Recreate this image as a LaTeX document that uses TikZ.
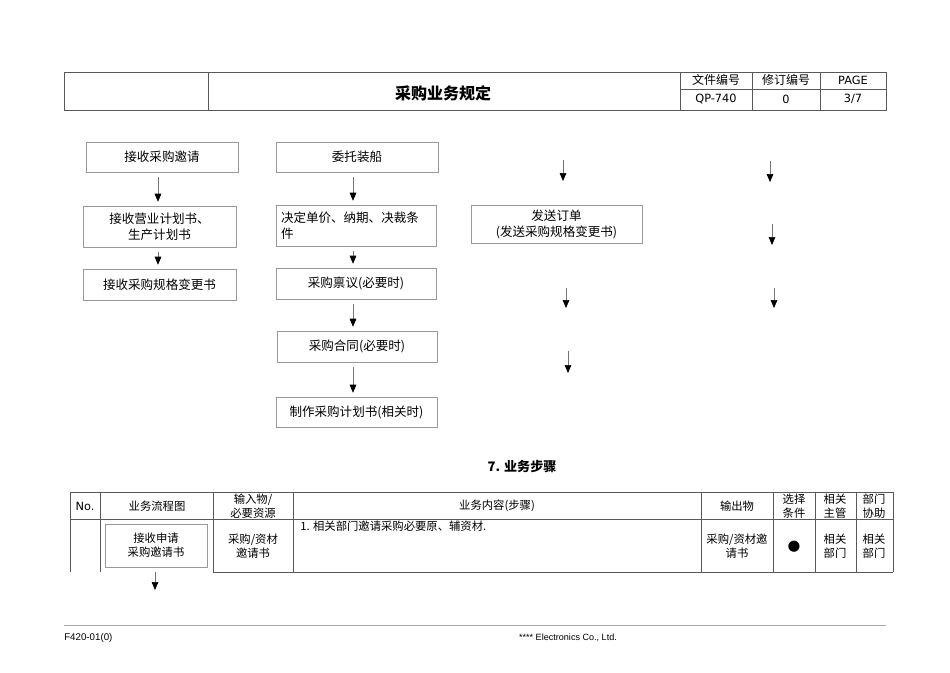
\documentclass[tikz,border=0pt]{standalone}
\usepackage{fontspec}
\setmainfont{DejaVu Sans}
\newfontfamily\cjk{Noto Sans CJK SC}
\newfontfamily\footfont{Liberation Sans}
\usetikzlibrary{arrows.meta}
\newdimen\px \px=0.75pt
\begin{document}
\begin{tikzpicture}[x=0.75pt, y=-0.75pt,
	flowbox/.style={draw=black!40, inner sep=0pt, align=center, font=\cjk\fontsize{9.4}{12}\selectfont},
	flowarr/.style={draw=black!55, line width=0.5pt, -{Triangle[width=5pt, length=6pt, color=black]}, shorten <=5\px, shorten >=4\px},
	tab/.style={draw=black!65, line width=0.6pt},
	cell/.style={align=center, inner sep=0pt, font=\cjk\fontsize{8.5}{10.5}\selectfont}]
	\useasboundingbox[fill=white] (0,0) rectangle (950,672);
	% header
	\draw[tab] (64,72) rectangle (886,110);
	\draw[tab] (208,72) -- (208,110) (680,72) -- (680,110) (752,72) -- (752,110) (820,72) -- (820,110) (680,89) -- (886,89);
	\node[font=\cjk\bfseries\fontsize{12}{14}\selectfont] (title) at (443,93) {采购业务规定};
	\node[cell, font=\cjk\fontsize{9}{11}\selectfont] (h1) at (716,80) {文件编号};
	\node[cell, font=\cjk\fontsize{9}{11}\selectfont] (h2) at (786,80) {修订编号};
	\node[cell, font=\fontsize{8.5}{10}\selectfont] (h3) at (853,80) {PAGE};
	\node[cell, font=\fontsize{8.5}{10}\selectfont] (h4) at (716,99) {QP-740};
	\node[cell, font=\fontsize{8.5}{10}\selectfont] (h5) at (786,99) {0};
	\node[cell, font=\fontsize{8.5}{10}\selectfont] (h6) at (853,99) {3/7};
	% flow, column 1
	\node[flowbox, minimum width=152\px, minimum height=30\px] (b1) at (162,157) {接收采购邀请};
	\node[flowbox, minimum width=153\px, minimum height=41\px] (b2) at (159.5,226.5) {接收营业计划书、\\生产计划书};
	\node[flowbox, minimum width=153\px, minimum height=31\px] (b3) at (159.5,284.5) {接收采购规格变更书};
	\draw[flowarr] ([xshift=-4\px]b1.south) -- ([xshift=-1.5\px]b2.north);
	\draw[flowarr] ([xshift=-1.5\px]b2.south) -- ([xshift=-1.5\px]b3.north);
	% flow, column 2
	\node[flowbox, minimum width=162\px, minimum height=30\px] (c1) at (357,157) {委托装船};
	\node[flowbox, minimum width=160\px, minimum height=41\px, align=left, text width=150\px] (c2) at (356,225.5) {决定单价、纳期、决裁条\\件};
	\node[flowbox, minimum width=160\px, minimum height=31\px] (c3) at (356,283.5) {采购禀议(必要时)};
	\node[flowbox, minimum width=160\px, minimum height=31\px] (c4) at (357,346.5) {采购合同(必要时)};
	\node[flowbox, minimum width=161\px, minimum height=30\px] (c5) at (356.5,412) {制作采购计划书(相关时)};
	\draw[flowarr] ([xshift=-4\px]c1.south) -- ([xshift=-3\px]c2.north);
	\draw[flowarr] ([xshift=-3\px]c2.south) -- ([xshift=-3\px]c3.north);
	\draw[flowarr] ([xshift=-3\px]c3.south) -- ([xshift=-4\px]c4.north);
	\draw[flowarr] ([xshift=-4\px]c4.south) -- ([xshift=-3.5\px]c5.north);
	% flow, column 3 and 4
	\node[flowbox, minimum width=171\px, minimum height=38\px] (d1) at (556.5,224) {发送订单\\(发送采购规格变更书)};
	\coordinate (p1) at (563,160); \coordinate (q1) at (563,185);
	\coordinate (p2) at (566,288); \coordinate (q2) at (566,312);
	\coordinate (p3) at (568,351); \coordinate (q3) at (568,377);
	\coordinate (p4) at (770,161); \coordinate (q4) at (770,186);
	\coordinate (p5) at (772,224); \coordinate (q5) at (772,249);
	\coordinate (p6) at (774,288); \coordinate (q6) at (774,312);
	\foreach \i in {1,...,6}
		\draw[flowarr, shorten <=0pt] (p\i) -- (q\i);
	% steps table
	\node[font=\cjk\bfseries\fontsize{9.8}{12}\selectfont] (sec) at (522,467) {7. 业务步骤};
	\draw[tab] (70,492) -- (893,492) (70,519) -- (893,519) (213,572) -- (893,572);
	\foreach \x in {70,100,213,293,701,773,815,856,893}
		\draw[tab] (\x,492) -- (\x,572);
	\node[cell, font=\fontsize{8.5}{10}\selectfont] (t1) at (85,506) {No.};
	\node[cell] (t2) at (157,506) {业务流程图};
	\node[cell] (t3) at (253,506) {输入物/\\必要资源};
	\node[cell] (t4) at (497,506) {业务内容(步骤)};
	\node[cell] (t5) at (737,506) {输出物};
	\node[cell] (t6) at (794,506) {选择\\条件};
	\node[cell] (t7) at (835,506) {相关\\主管};
	\node[cell] (t8) at (874,506) {部门\\协助};
	\node[flowbox, minimum width=102\px, minimum height=43\px, font=\cjk\fontsize{8.5}{10.5}\selectfont] (r1) at (156,545.5) {接收申请\\采购邀请书};
	\coordinate (r1end) at (155,590);
	\draw[flowarr, shorten >=0pt] ([xshift=-1\px]r1.south) -- (r1end);
	\node[cell] (s1) at (253,546) {采购/资材\\邀请书};
	\node[cell, anchor=north west] (s2) at (300,521) {1. 相关部门邀请采购必要原、辅资材.};
	\node[cell] (s3) at (737,546) {采购/资材邀\\请书};
	\node[cell, font=\fontsize{11}{12}\selectfont] (s4) at (794,547) {●};
	\node[cell] (s5) at (835,546) {相关\\部门};
	\node[cell] (s6) at (874,546) {相关\\部门};
	% footer
	\draw[draw=black!35, line width=0.6pt] (64,625) -- (886,625);
	\node[anchor=west, inner sep=0pt, font=\footfont\fontsize{7.3}{8}\selectfont] (f1) at (64,638) {F420-01(0)};
	\node[inner sep=0pt, font=\footfont\fontsize{6.8}{8}\selectfont] (f2) at (568,638) {**** Electronics Co., Ltd.};
\end{tikzpicture}
\end{document}
